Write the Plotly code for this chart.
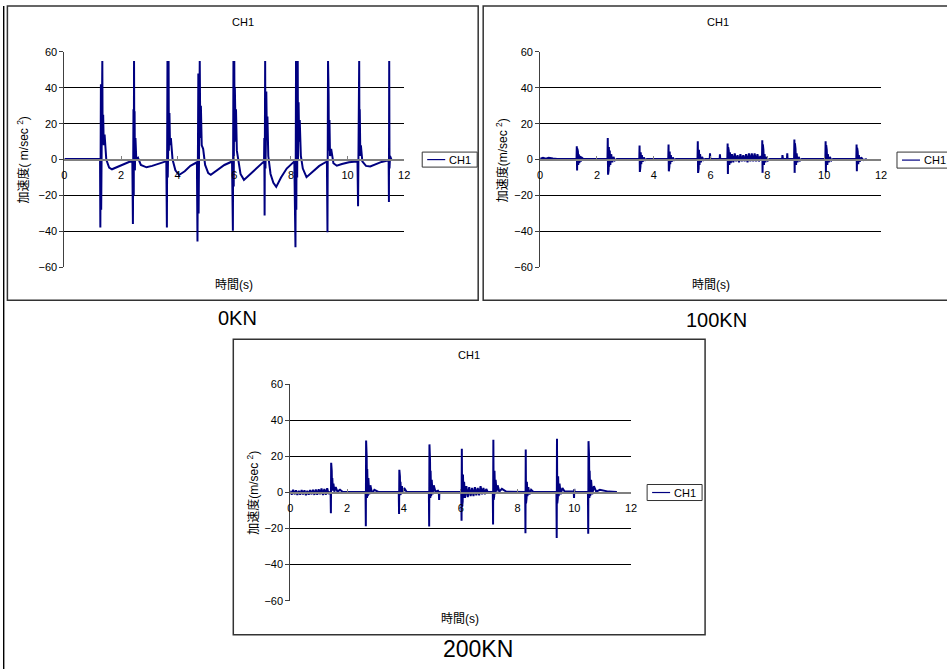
import plotly.graph_objects as go

# ---------------- data ----------------
panel_titles = ["CH1", "CH1", "CH1"]
panel_labels = ["0KN", "100KN", "200KN"]
series_name = "CH1"
x_ticks = [0, 2, 4, 6, 8, 10, 12]
y_ticks = [-60, -40, -20, 0, 20, 40, 60]

# 0KN
t_0kn = [0.00, 0.50, 1.00, 1.26,
         1.27, 1.29, 1.30, 1.32, 1.33, 1.34, 1.35, 1.37, 1.39, 1.42, 1.48, 1.58, 1.68, 1.85, 2.05, 2.30,
         2.40, 2.42, 2.44, 2.45, 2.46, 2.47, 2.48, 2.49, 2.51, 2.54, 2.60, 2.70, 2.90, 3.10, 3.35, 3.58,
         3.60, 3.62, 3.64, 3.65, 3.66, 3.67, 3.68, 3.69, 3.71, 3.73, 3.76, 3.82, 3.92, 4.05, 4.25, 4.45, 4.66,
         4.68, 4.70, 4.73, 4.74, 4.76, 4.77, 4.78, 4.80, 4.82, 4.85, 4.90, 4.97, 5.08, 5.17, 5.40, 5.65, 5.90,
         5.92, 5.95, 5.97, 5.98, 6.00, 6.01, 6.02, 6.04, 6.06, 6.09, 6.14, 6.22, 6.34, 6.50, 6.75, 7.02,
         7.05, 7.06, 7.07, 7.09, 7.10, 7.11, 7.12, 7.13, 7.15, 7.17, 7.20, 7.28, 7.38, 7.48, 7.65, 7.85, 8.10,
         8.12, 8.16, 8.18, 8.19, 8.21, 8.22, 8.24, 8.25, 8.27, 8.29, 8.31, 8.35, 8.42, 8.55, 8.75, 9.00, 9.25,
         9.27, 9.29, 9.31, 9.32, 9.33, 9.34, 9.36, 9.38, 9.42, 9.50, 9.62, 9.80, 10.05, 10.32,
         10.35, 10.37, 10.39, 10.40, 10.41, 10.42, 10.43, 10.45, 10.47, 10.52, 10.65, 10.80, 11.00, 11.20, 11.42,
         11.45, 11.46, 11.47, 11.48, 11.50, 11.55]
a_0kn = [0.3, 0.3, 0.3, 0.3,
         -37.8, 42, -28, 55, 8, 55, 12, 25, 8, 14, 0, -4.5, -5.4, -4.2, -2.6, -1.2,
         -1, -35.9, 28, -20, 55, 5, 27, -6, 12, 0, 1, -3, -4.3, -3.5, -2, -1,
         -1, -37.8, 55, -10, 55, 10, 55, 5, 26, 8, 12, 0, -6, -8.6, -6.5, -3.5, -1.5,
         -1.5, -45.6, 48, -30, 55, 10, 55, 12, 30, 8, 6, -3, -7.5, -8.5, -6, -3, -1.2,
         -1, -39.6, 55, -15, 55, 10, 40, 20, 28, 5, 0, -8, -11.3, -9, -5, -1.2,
         -1, 12, -31.1, 55, -5, 55, 15, 38, 14, 24, 2, -8, -13, -15.2, -10, -5, -1.2,
         -1, -48.9, 55, -28, 55, -10, 55, 0, 32, 10, 22, 2, -5, -9.8, -7, -3.5, -1.2,
         -1, -40.5, 55, -5, 36, 5, 22, 2, 6, -2, -3.4, -2.5, -1.5, -1,
         -1, -26, 55, -10, 55, 5, 28, 2, 8, -1, -3.5, -3.8, -2.5, -1.3, -0.5,
         -0.5, -23.6, 55, -5, 2, 0]

# 100KN
t_100kn = [0.00, 0.10, 0.20, 0.30, 0.45, 0.60,
           1.28, 1.29, 1.30, 1.31, 1.32, 1.33, 1.34, 1.36, 1.38, 1.40, 1.43, 1.47, 1.52,
           2.37, 2.38, 2.39, 2.40, 2.41, 2.42, 2.43, 2.45, 2.47, 2.50, 2.54, 2.58, 2.63, 2.70,
           3.49, 3.50, 3.51, 3.52, 3.53, 3.54, 3.56, 3.58, 3.61, 3.65, 3.70, 3.76,
           4.51, 4.52, 4.53, 4.54, 4.55, 4.56, 4.58, 4.60, 4.63, 4.67, 4.72, 4.78,
           5.54, 5.55, 5.56, 5.57, 5.58, 5.59, 5.61, 5.63, 5.66, 5.70, 5.75, 5.81,
           5.97, 5.98, 5.99, 6.32, 6.33, 6.34,
           6.59, 6.60, 6.61, 6.62, 6.63, 6.64, 6.66, 6.68, 6.71, 6.75,
           6.80, 6.85, 6.90, 6.95, 7.00, 7.05, 7.10, 7.15, 7.20, 7.25, 7.30, 7.35, 7.40, 7.45,
           7.50, 7.55, 7.60, 7.65, 7.70, 7.75,
           7.81, 7.82, 7.83, 7.84, 7.85, 7.86, 7.88, 7.90, 7.93, 7.97, 8.02, 8.08,
           8.52, 8.53, 8.55, 8.69, 8.70, 8.71,
           8.94, 8.95, 8.96, 8.97, 8.98, 8.99, 9.01, 9.03, 9.06, 9.10, 9.15, 9.21,
           10.04, 10.05, 10.06, 10.07, 10.08, 10.09, 10.11, 10.13, 10.16, 10.20, 10.25, 10.31,
           11.13, 11.14, 11.15, 11.16, 11.17, 11.18, 11.20, 11.22, 11.25, 11.30, 11.38, 11.50]
a_100kn = [0.5, 1.0, 0.5, 1.0, 0.6, 0.3,
           0.3, 7.4, -6.1, 6.0, -4.5, 4.5, -3, 3, -2, 2, -1, 1, 0.3,
           0.3, 12.1, -8.4, 10, -6, 7, -4, 5, -3, 3, -1.5, 1.5, -0.5, 0.3,
           0.3, 7.8, -6.9, 6, -4, 4, -2.5, 2.5, -1.2, 1.2, -0.3, 0.3,
           0.3, 8.4, -6.5, 6.5, -4, 4.5, -2.5, 2.5, -1.2, 1.2, -0.3, 0.3,
           0.3, 10.2, -7.4, 8, -5, 5.5, -3, 3, -1.5, 1.5, -0.3, 0.3,
           0.3, 3.5, 0.3, 0.3, 3, 0.3,
           0.3, 8.9, -8, 7, -5, 5, -3, 4, -2, 3,
           -1.5, 3.5, -1, 2.5, -1.5, 3, -1, 2.5, -1, 3, -1.5, 3.5, -1, 3.5,
           -1, 3.5, -1, 3, -1, 2,
           0.3, 10.8, -7.4, 8.5, -5, 5.5, -3, 3, -1.5, 1.5, -0.5, 0.3,
           0.3, 2.5, 0.3, 0.3, 3.5, 0.3,
           0.3, 11.2, -7.4, 9, -5, 6, -3, 3.5, -1.5, 1.5, -0.5, 0.3,
           0.3, 10.2, -7, 8, -5, 5.5, -3, 3, -1.5, 1.5, -0.5, 0.3,
           0.3, 8.4, -6.5, 6.5, -4, 4.5, -2.5, 2.5, -1.2, 1.2, -0.3, 0.3]

# 200KN
t_200kn = [0.00, 0.05, 0.10, 0.15, 0.20, 0.25, 0.30, 0.35, 0.40, 0.45, 0.50, 0.55, 0.60, 0.65,
           0.70, 0.75, 0.80, 0.85, 0.90, 0.95, 1.00, 1.05, 1.10, 1.15, 1.20, 1.25, 1.30, 1.35, 1.40,
           1.42, 1.43, 1.44, 1.45, 1.46, 1.47, 1.48, 1.50, 1.52, 1.55, 1.60, 1.66, 1.75, 1.85,
           2.65, 2.66, 2.67, 2.68, 2.69, 2.70, 2.71, 2.73, 2.75, 2.78, 2.82, 2.88, 2.96, 3.10,
           3.82, 3.83, 3.84, 3.85, 3.86, 3.87, 3.88, 3.90, 3.93, 3.97, 4.03, 4.10,
           4.88, 4.89, 4.90, 4.91, 4.92, 4.93, 4.94, 4.96, 4.98, 5.01, 5.05, 5.11, 5.20, 5.23, 5.24, 5.25,
           6.02, 6.03, 6.04, 6.05, 6.06, 6.07, 6.08, 6.10, 6.12, 6.15,
           6.20, 6.25, 6.30, 6.35, 6.40, 6.45, 6.50, 6.55, 6.60, 6.65, 6.70, 6.75, 6.80, 6.85, 6.90, 6.95,
           7.13, 7.14, 7.15, 7.16, 7.17, 7.18, 7.19, 7.21, 7.23, 7.26, 7.30, 7.36, 7.45, 7.60,
           8.27, 8.28, 8.29, 8.30, 8.31, 8.32, 8.33, 8.35, 8.38, 8.42, 8.48, 8.56,
           9.37, 9.38, 9.39, 9.40, 9.41, 9.42, 9.43, 9.45, 9.48, 9.52, 9.58, 9.66, 9.98, 9.99, 10.00, 10.01,
           10.48, 10.49, 10.50, 10.51, 10.52, 10.53, 10.54, 10.56, 10.59, 10.63, 10.69, 10.77, 10.90, 11.20, 11.50]
a_200kn = [1.0, -1.2, 1.5, -1.0, 1.2, -1.4, 1.0, -1.2, 1.3, -1.0, 1.2, -1.5, 1.0, -1.2,
           1.4, -1.0, 1.5, -1.3, 1.6, -1.2, 1.8, -1.0, 2.2, -1.4, 2.0, -1.2, 2.4, -0.8, 0.3,
           0.3, -11.5, 16.5, 2, 12, 1, 8, 1, 5, 0.5, 3, 0.5, 1.5, 0.3,
           0.3, -18.7, 28.9, -6, 20, -3, 13, -2, 8, -1, 4, -0.5, 1.5, 0.3,
           0.3, -11.9, 12.6, -3, 9, -1.5, 6, -1, 3.5, 0.5, 2, 0.3,
           0.3, -18.9, 26.7, -5, 18, -3, 12, -2, 7, -1, 4, 0.5, 1, 0.3, -4.1, 0.3,
           0.3, -15.6, 24.3, -8, 16, -5, 10, -3, 6, -3,
           3.5, -2.5, 3, -2, 2.5, -2, 3, -1.5, 2.5, -1.5, 3.5, -1, 2.5, -1, 2, 0.3,
           0.3, -17.8, 29.3, -4, 18, -2, 12, -1, 7, 0.5, 4, 0.5, 2, 0.5,
           0.3, -22.6, 23.9, -6, 10, -3, 6, -2, 3, -1, 1.5, 0.3,
           0.3, -25.2, 29.8, -6, 15, -3, 9, -2, 5, -1, 2.5, 0.5, 0.5, -3, 2, 0.3,
           0.3, -22.9, 28.5, -6, 20, -3, 12, -2, 7, -1, 3.5, 0.5, 1.5, 0.5, 0.3]

# ---------------- layout helpers ----------------
# Figure slightly larger than the window so that the photographed area (which
# maps page px -> picture px as x' = 2.6 + 0.991 x, y' = 6.1 + 0.981 y) is filled.
W, H = 953, 676
SX, OX, SY, OY = 0.991, 2.6, 0.981, 6.1


def fx(px):  # reference picture px -> paper fraction
    return ((px - OX) / SX) / W


def fy(py):
    return 1 - ((py - OY) / SY) / H


NAVY = "#000080"
FONT = "Liberation Sans, Arial, Noto Sans CJK JP, sans-serif"
RIGHT_EDGE = 960  # panel 2 runs past the right edge of the picture

panels = [
    dict(plot=(64, 404, 52, 267), frame=(7, 478, 6, 300), title=(243, 22), xt=(234, 285),
         yt=(23, 160), ytext="加速度( m/sec <sup>2</sup>)",
         leg=(422, 477, 152, 167), label=(237, 318), lsize=20),
    dict(plot=(540, 881, 52, 267), frame=(483, RIGHT_EDGE, 6, 300), title=(718, 22), xt=(711, 285),
         yt=(502, 160), ytext="加速度(m/sec <sup>2</sup>)",
         leg=(897, RIGHT_EDGE, 152, 168), label=(716, 320), lsize=20),
    dict(plot=(290, 631, 384, 600), frame=(233, 705, 339, 634), title=(469, 355), xt=(460, 618),
         yt=(252, 492), ytext="加速度(m/sec <sup>2</sup>)",
         leg=(647, 702, 484, 500), label=(478, 648), lsize=23),
]
series = [(t_0kn, a_0kn), (t_100kn, a_100kn), (t_200kn, a_200kn)]

fig = go.Figure()
shapes = []
annotations = []
layout_axes = {}

# black strip at the very left edge
shapes.append(dict(type="rect", xref="paper", yref="paper", x0=0, x1=fx(4), y0=0, y1=1,
                   fillcolor="black", line=dict(width=0), layer="above"))

for i, (p, (tx, ay)) in enumerate(zip(panels, series)):
    k = "" if i == 0 else str(i + 1)
    fig.add_trace(go.Scatter(x=tx, y=ay, mode="lines", name=series_name,
                             line=dict(color=NAVY, width=2),
                             xaxis="x" + k, yaxis="y" + k, showlegend=False,
                             hoverinfo="skip"))
    l, r, t, b = p["plot"]
    ydom = [fy(b), fy(t)]
    layout_axes["xaxis" + k] = dict(
        domain=[fx(l), fx(r)], range=[0, 12], tickvals=x_ticks,
        ticks="inside", ticklen=3, tickcolor="#808080", tickwidth=1,
        showgrid=False, zeroline=False, showline=True, linecolor="#808080", linewidth=2,
        anchor="free", position=(ydom[0] + ydom[1]) / 2, ticklabelstandoff=5,
        tickfont=dict(size=11, color="black", family=FONT), fixedrange=True)
    layout_axes["yaxis" + k] = dict(
        domain=ydom, range=[-60, 60], tickvals=y_ticks, anchor="x" + k,
        showgrid=True, gridcolor="black", gridwidth=1,
        zeroline=True, zerolinecolor="#808080", zerolinewidth=2,
        showline=True, linecolor="#404040", linewidth=1,
        ticks="outside", ticklen=4, tickcolor="#404040",
        tickfont=dict(size=11, color="black", family=FONT), fixedrange=True)

    fl, fr, ft, fb = p["frame"]
    shapes.append(dict(type="rect", xref="paper", yref="paper", x0=fx(fl), x1=min(fx(fr), 1.01),
                       y0=fy(fb), y1=fy(ft), line=dict(color="#333333", width=1.5),
                       fillcolor="rgba(0,0,0,0)", layer="below"))
    ll, lr, lt, lb = p["leg"]
    shapes.append(dict(type="rect", xref="paper", yref="paper", x0=fx(ll), x1=min(fx(lr), 1.01),
                       y0=fy(lb), y1=fy(lt), line=dict(color="#333333", width=1),
                       fillcolor="white"))
    ly = (lt + lb) / 2
    shapes.append(dict(type="line", xref="paper", yref="paper", x0=fx(ll + 5), x1=fx(ll + 23),
                       y0=fy(ly), y1=fy(ly), line=dict(color=NAVY, width=1.2)))
    annotations.append(dict(text=series_name, xref="paper", yref="paper", x=fx(ll + 25), y=fy(ly),
                            xanchor="left", yanchor="middle", showarrow=False,
                            font=dict(size=11, color="black", family=FONT)))
    annotations.append(dict(text=panel_titles[i], xref="paper", yref="paper",
                            x=fx(p["title"][0]), y=fy(p["title"][1]), showarrow=False,
                            xanchor="center", yanchor="middle",
                            font=dict(size=11, color="black", family=FONT)))
    annotations.append(dict(text="時間(s)", xref="paper", yref="paper",
                            x=fx(p["xt"][0]), y=fy(p["xt"][1]), showarrow=False,
                            xanchor="center", yanchor="middle",
                            font=dict(size=12, color="black", family=FONT)))
    annotations.append(dict(text=p["ytext"], xref="paper", yref="paper",
                            x=fx(p["yt"][0]), y=fy(p["yt"][1]), showarrow=False, textangle=-90,
                            xanchor="center", yanchor="middle",
                            font=dict(size=12, color="black", family=FONT)))
    annotations.append(dict(text=panel_labels[i], xref="paper", yref="paper",
                            x=fx(p["label"][0]), y=fy(p["label"][1]), showarrow=False,
                            xanchor="center", yanchor="middle",
                            font=dict(size=p["lsize"], color="black", family=FONT)))

fig.update_layout(
    width=W, height=H, margin=dict(l=0, r=0, t=0, b=0),
    paper_bgcolor="white", plot_bgcolor="white",
    showlegend=False, shapes=shapes, annotations=annotations,
    font=dict(family=FONT, color="black"), hovermode=False,
    **layout_axes)

fig.write_html(
    "out.html",
    config={"displayModeBar": False, "staticPlot": True},
    post_script=("document.documentElement.style.margin='0';"
                 "document.documentElement.style.overflow='hidden';"
                 "document.body.style.margin='0';"
                 "document.body.style.overflow='hidden';"))
